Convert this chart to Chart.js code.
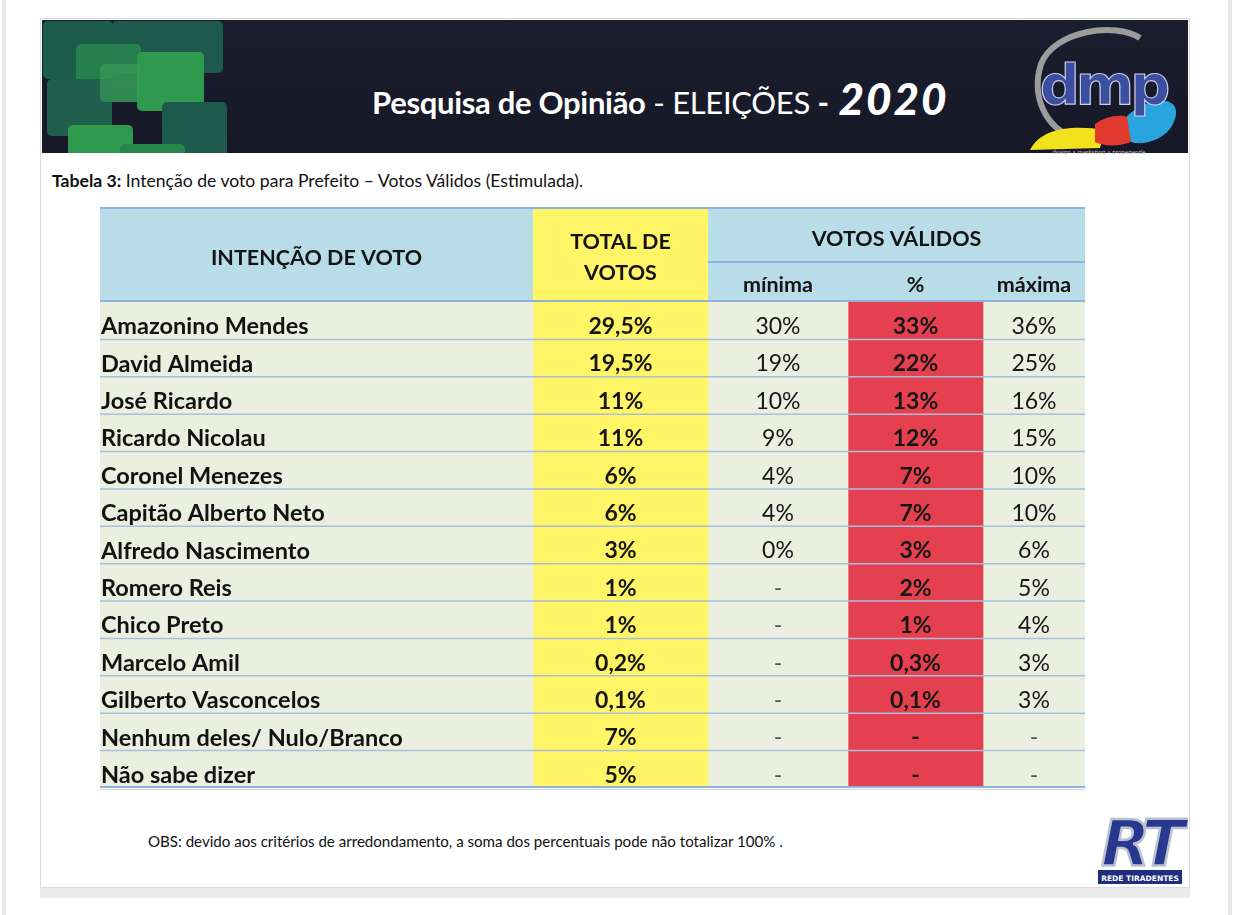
<!DOCTYPE html>
<html>
<head>
<meta charset="utf-8">
<title>Pesquisa de Opinião - Eleições 2020</title>
<script src="https://cdn.jsdelivr.net/npm/chart.js@4.4.0/dist/chart.umd.min.js"></script>
<style>
  body { margin: 0; width: 1242px; height: 915px; background: #fff; position: relative; overflow: hidden; font-family: Lato, "Open Sans", sans-serif; }
  .faixa { position: absolute; top: 0; width: 4px; height: 915px; background: #e7e7e7; }
  #painel { position: absolute; left: 40px; top: 18px; width: 1148px; height: 868px; background: #fff; border: 1px solid #dcdcdc; box-shadow: 0 10px 0 #ececec; }
  #banner { position: absolute; left: 42px; top: 20px; width: 1146px; height: 133px; overflow: hidden;
            background: linear-gradient(180deg, #1b1e2e 0%, #161827 100%); }
  .q { position: absolute; border-radius: 5px; }
  #titulo { position: absolute; left: 372px; top: 71px; color: #fff; font-size: 31px; white-space: nowrap; letter-spacing: -0.3px; }
  #titulo b { font-weight: 700; }
  #titulo .ano { font-size: 44px; font-weight: 900; font-style: italic; letter-spacing: 2px; position: relative; top: 1px; margin-left: 2px; }
  #legenda { position: absolute; left: 52px; top: 170px; font-size: 17.6px; color: #111; white-space: nowrap; }
  #obs { position: absolute; left: 148px; top: 832px; font-size: 15.1px; color: #111; white-space: nowrap; }
  #grafico { position: absolute; left: 99px; top: 206px; }
  svg { position: absolute; }
</style>
</head>
<body>
<div class="faixa" style="left:2px"></div>
<div class="faixa" style="left:1228px"></div>
<div id="painel"></div>
<div id="banner">
  <div class="q" style="left:1px;top:1px;width:70px;height:58px;background:#1c5c4a"></div>
  <div class="q" style="left:70px;top:1px;width:111px;height:52px;background:#1d5a4b"></div>
  <div class="q" style="left:34px;top:24px;width:65px;height:58px;background:rgba(42,140,80,0.75)"></div>
  <div class="q" style="left:95px;top:32px;width:67px;height:59px;background:#2f9a4d"></div>
  <div class="q" style="left:5px;top:59px;width:65px;height:57px;background:#1f5f4c"></div>
  <div class="q" style="left:120px;top:82px;width:65px;height:60px;background:#1d5a4b"></div>
  <div class="q" style="left:26px;top:105px;width:65px;height:50px;background:#2f9a4d"></div>
  <div class="q" style="left:78px;top:124px;width:65px;height:40px;background:#27864a"></div>
  <div class="q" style="left:58px;top:44px;width:40px;height:38px;background:rgba(60,160,90,0.6)"></div>
</div>
<div id="titulo"><b>Pesquisa de Opinião</b> - ELEIÇÕES <b>-</b> <span class="ano">2020</span></div>

<svg style="left:1015px;top:24px" width="170" height="132" viewBox="0 0 170 132">
  <path d="M125 14 C 100 -2, 40 6, 26 40 C 16 72, 30 104, 60 114 C 80 120, 105 116, 118 104" fill="none" stroke="#9c9c9c" stroke-width="6"/>
  <path d="M15 126 C 25 105, 55 100, 90 106 L 85 124 Z" fill="#f2e21d"/>
  <path d="M80 100 C 100 86, 128 90, 122 112 C 118 122, 92 124, 80 118 Z" fill="#e23a2e"/>
  <path d="M112 92 C 135 70, 172 70, 158 100 C 150 116, 128 122, 116 118 Z" fill="#2aa4dc"/>
  <text x="88" y="80" text-anchor="middle" font-family="'DejaVu Sans', sans-serif" font-size="56" font-weight="bold" fill="#3b4ea0" stroke="#c9cde8" stroke-width="1.2" letter-spacing="-4">dmp</text>
  <text x="84" y="130" text-anchor="middle" font-family="'DejaVu Sans', sans-serif" font-size="5.5" fill="#c8c8c8">design • marketing • propaganda</text>
</svg>

<div id="legenda"><b>Tabela 3:</b> Intenção de voto para Prefeito – Votos Válidos (Estimulada).</div>

<canvas id="grafico" width="988" height="586"></canvas>

<div id="obs">OBS: devido aos critérios de arredondamento, a soma dos percentuais pode não totalizar 100% .</div>

<svg style="left:1092px;top:800px" width="96" height="88" viewBox="0 0 96 88">
  <text x="48" y="66" text-anchor="middle" font-family="'DejaVu Sans', sans-serif" font-size="64" font-weight="bold" font-style="italic" fill="#27388e" stroke="#b9c3cf" stroke-width="2.5" letter-spacing="-6">RT</text>
  <rect x="6" y="70" width="84" height="14" fill="#1f2f80"/>
  <text x="48" y="80.5" text-anchor="middle" font-family="'DejaVu Sans', sans-serif" font-size="7.5" font-weight="bold" fill="#fff">REDE TIRADENTES</text>
</svg>

<script>
// linhas da tabela
const nomes = ['Amazonino Mendes', 'David Almeida', 'José Ricardo', 'Ricardo Nicolau', 'Coronel Menezes',
  'Capitão Alberto Neto', 'Alfredo Nascimento', 'Romero Reis', 'Chico Preto', 'Marcelo Amil',
  'Gilberto Vasconcelos', 'Nenhum deles/ Nulo/Branco', 'Não sabe dizer'];
const totalVotos = [29.5, 19.5, 11, 11, 6, 6, 3, 1, 1, 0.2, 0.1, 7, 5];
const minima = [30, 19, 10, 9, 4, 4, 0, null, null, null, null, null, null];
const percentual = [33, 22, 13, 12, 7, 7, 3, 2, 1, 0.3, 0.1, null, null];
const maxima = [36, 25, 16, 15, 10, 10, 6, 5, 4, 3, 3, null, null];

// cabeçalhos
const cabecalho = ['INTENÇÃO DE VOTO', 'TOTAL DE|VOTOS', 'mínima', '%', 'máxima'];
const grupo = 'VOTOS VÁLIDOS';

// limites das colunas (unidades do eixo x)
const bordas = [0, 433, 608, 748, 883, 985];
const cores = ['#ebefdf', '#fff566', '#ebefdf', '#e5404f', '#ebefdf'];

const fmt = v => v === null ? '-' : String(v).replace('.', ',') + '%';
const fonte = 'Lato, "Open Sans", sans-serif';

function linha(ctx, x1, y1, x2, y2) {
  ctx.beginPath(); ctx.moveTo(x1, y1); ctx.lineTo(x2, y2); ctx.stroke();
}

const tabela = {
  id: 'tabela',
  afterDatasetsDraw(chart) {
    const { ctx, chartArea: a, scales: { x, y } } = chart;
    const topo = a.top - 94;
    const cx = k => (x.getPixelForValue(bordas[k]) + x.getPixelForValue(bordas[k + 1])) / 2;
    ctx.save();

    // cabeçalho
    ctx.fillStyle = '#b8dde8';
    ctx.fillRect(a.left, topo, a.right - a.left, a.top - topo);
    ctx.fillStyle = cores[1];
    ctx.fillRect(x.getPixelForValue(bordas[1]), topo, x.getPixelForValue(bordas[2]) - x.getPixelForValue(bordas[1]), a.top - topo);

    ctx.strokeStyle = '#8fb1dc'; ctx.lineWidth = 2;
    linha(ctx, a.left, topo, a.right, topo);
    linha(ctx, x.getPixelForValue(bordas[2]), topo + 54, a.right, topo + 54);
    linha(ctx, a.left, a.top - 1, a.right, a.top - 1);

    ctx.fillStyle = '#141414';
    ctx.textAlign = 'center'; ctx.textBaseline = 'middle';
    ctx.font = 'bold 21.5px ' + fonte;
    ctx.fillText(cabecalho[0], cx(0), topo + 50);
    const [t1, t2] = cabecalho[1].split('|');
    ctx.fillText(t1, cx(1), topo + 34);
    ctx.fillText(t2, cx(1), topo + 65);
    ctx.fillText(grupo, (x.getPixelForValue(bordas[2]) + a.right) / 2, topo + 31);
    for (let k = 2; k < 5; k++) ctx.fillText(cabecalho[k], cx(k), topo + 77);

    // linhas entre as linhas de dados
    ctx.strokeStyle = '#a7bedd'; ctx.lineWidth = 1.5;
    for (let i = 1; i < nomes.length; i++) {
      const yy = y.getPixelForValue(i - 0.5);
      linha(ctx, a.left, yy, a.right, yy);
    }
    ctx.strokeStyle = '#8fb1dc'; ctx.lineWidth = 2;
    linha(ctx, a.left, a.bottom - 1, a.right, a.bottom - 1);
    ctx.strokeStyle = '#c9d8ec'; ctx.lineWidth = 1;
    linha(ctx, a.left, a.bottom + 1.5, a.right, a.bottom + 1.5);

    // textos das células
    const valores = [totalVotos, minima, percentual, maxima];
    const negrito = [true, false, true, false];
    nomes.forEach((nome, i) => {
      const yy = y.getPixelForValue(i) + 6;
      ctx.textAlign = 'left';
      ctx.font = 'bold 23.5px ' + fonte;
      ctx.fillStyle = '#121212';
      ctx.fillText(nome, x.getPixelForValue(bordas[0]) + 1, yy);
      ctx.textAlign = 'center';
      valores.forEach((serie, k) => {
        const v = serie[i];
        ctx.font = (negrito[k] ? 'bold ' : '') + '23px ' + fonte;
        ctx.fillStyle = v === null && !negrito[k] ? '#555' : '#161616';
        ctx.fillText(fmt(v), cx(k + 1), yy);
      });
    });
    ctx.restore();
  }
};

new Chart(document.getElementById('grafico'), {
  type: 'bar',
  data: {
    labels: nomes,
    datasets: cores.map((cor, k) => ({
      data: nomes.map(() => [bordas[k], bordas[k + 1]]),
      backgroundColor: cor,
      borderWidth: 0,
      barPercentage: 1,
      categoryPercentage: 1,
      grouped: false
    }))
  },
  options: {
    indexAxis: 'y',
    responsive: false,
    animation: false,
    layout: { padding: { left: 1, right: 2, top: 96, bottom: 4 } },
    plugins: { legend: { display: false }, tooltip: { enabled: false } },
    scales: {
      x: { type: 'linear', min: bordas[0], max: bordas[bordas.length - 1], display: false },
      y: { type: 'category', display: false, offset: true }
    }
  },
  plugins: [tabela]
});
</script>
</body>
</html>
